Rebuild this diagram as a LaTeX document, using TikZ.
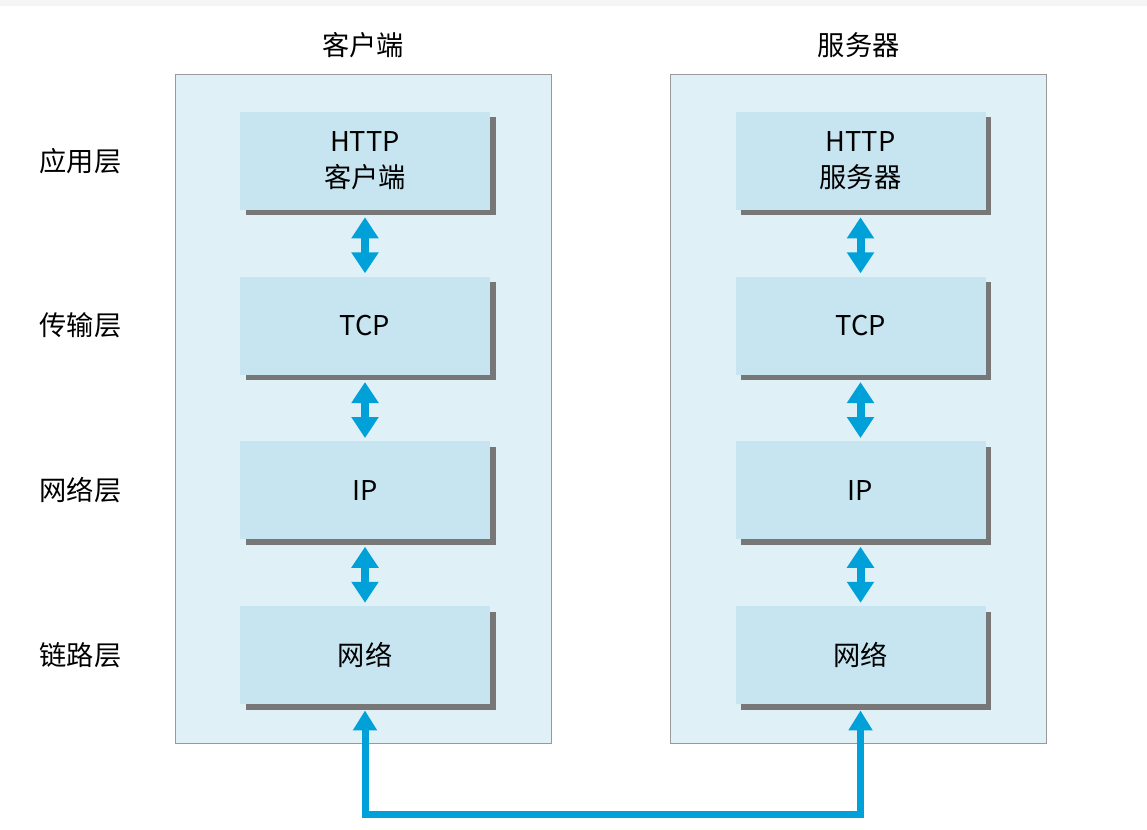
\documentclass[tikz,border=0pt]{standalone}
\usepackage{fontspec}
\newfontfamily\cjk{Noto Sans CJK SC}
\usepackage{tikz}
\usetikzlibrary{arrows.meta, positioning, shadows}

\definecolor{paneblue}{RGB}{223,240,246}
\definecolor{boxblue}{RGB}{198,229,240}
\definecolor{shadowgray}{RGB}{119,119,119}
\definecolor{arrowblue}{RGB}{0,160,217}

\begin{document}
\begin{tikzpicture}[
    node distance=1.32cm and 2.38cm,
    panel/.style={rectangle, draw=gray!80, fill=paneblue, minimum width=7.52cm, minimum height=13.38cm, inner sep=0pt},
    layer/.style={rectangle, fill=boxblue, minimum width=5cm, minimum height=1.96cm, inner sep=0pt, align=center, font=\cjk\fontsize{15.5pt}{20.5pt}\selectfont, copy shadow={shadow xshift=0.11cm, shadow yshift=-0.11cm, fill=shadowgray, draw=none}},
    tag/.style={font=\cjk\fontsize{15.5pt}{20.5pt}\selectfont},
    biarrow/.style={{Triangle[width=0.52cm, length=0.42cm]}-{Triangle[width=0.52cm, length=0.42cm]}, line width=0.16cm, color=arrowblue, shorten <=0.14cm, shorten >=0.06cm},
    link/.style={{Triangle[width=0.46cm, length=0.4cm]}-{Triangle[width=0.46cm, length=0.4cm]}, line width=0.14cm, color=arrowblue, shorten <=0.12cm, shorten >=0.12cm}
]
    \useasboundingbox (0,0) rectangle (22.94,16.6);
    \fill[gray!8] (0,16.48) rectangle (22.94,16.6);

    % Client and server panels
    \node (CP) [panel] at (7.26,8.43) {};
    \node (SP) [panel, right=of CP] {};
    \node (Ct) [tag, above=0.2cm of CP] {客户端};
    \node (St) [tag, above=0.2cm of SP] {服务器};

    % Client stack
    \node (H1) [layer] at (7.3,13.38) {HTTP\\客户端};
    \node (T1) [layer, below=of H1] {TCP};
    \node (I1) [layer, below=of T1] {IP};
    \node (N1) [layer, below=of I1] {网络};

    % Server stack
    \node (H2) [layer] at (17.21,13.38) {HTTP\\服务器};
    \node (T2) [layer, below=of H2] {TCP};
    \node (I2) [layer, below=of T2] {IP};
    \node (N2) [layer, below=of I2] {网络};

    % Layer names
    \node (A) [tag, left=2.24cm of H1] {应用层};
    \node (B) [tag, left=2.24cm of T1] {传输层};
    \node (C) [tag, left=2.24cm of I1] {网络层};
    \node (D) [tag, left=2.24cm of N1] {链路层};

    % Arrows between layers
    \draw [biarrow] (H1) -- (T1);
    \draw [biarrow] (T1) -- (I1);
    \draw [biarrow] (I1) -- (N1);
    \draw [biarrow] (H2) -- (T2);
    \draw [biarrow] (T2) -- (I2);
    \draw [biarrow] (I2) -- (N2);

    % Physical link
    \draw [link] (N1.south) -- ++(0,-2.2) -| (N2.south);

\end{tikzpicture}
\end{document}
